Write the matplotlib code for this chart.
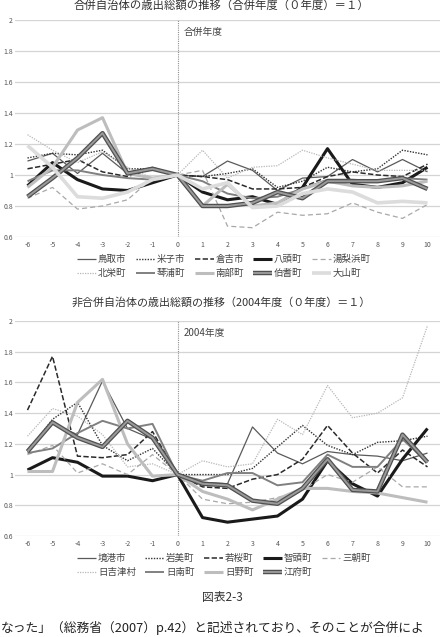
import matplotlib
matplotlib.use("Agg")
import matplotlib.pyplot as plt
import matplotlib.patheffects as pe

plt.rcParams['font.family'] = ['Noto Sans CJK JP', 'DejaVu Sans']

years = list(range(-6, 11))
xtick_labels = [str(y) for y in years]
yticks = [0.6, 0.8, 1.0, 1.2, 1.4, 1.6, 1.8, 2.0]
ytick_labels = ['0.6', '0.8', '1', '1.2', '1.4', '1.6', '1.8', '2']

# --- merged municipalities (top chart)
top_title = '合併自治体の歳出総額の推移（合併年度（０年度）＝１）'
top_note = '合併年度'
top_names = ['鳥取市', '米子市', '倉吉市', '八頭町', '湯梨浜町',
             '北栄町', '琴浦町', '南部町', '伯耆町', '大山町']
tottori   = [1.09, 1.14, 1.01, 1.14, 1.01, 1.05, 1.00, 0.99, 1.09, 1.03, 0.90, 0.98, 0.99, 1.10, 1.02, 1.10, 1.02]
yonago    = [1.11, 1.14, 1.13, 1.16, 1.04, 1.04, 1.00, 0.99, 1.01, 1.04, 0.92, 0.96, 1.05, 1.02, 1.04, 1.16, 1.13]
kurayoshi = [1.04, 1.07, 1.10, 1.02, 0.99, 1.04, 1.00, 0.99, 0.97, 0.91, 0.91, 0.92, 0.99, 1.02, 1.00, 0.99, 1.07]
yazu      = [0.93, 1.08, 0.97, 0.91, 0.90, 0.95, 1.00, 0.89, 0.84, 0.86, 0.81, 0.92, 1.17, 0.94, 0.92, 0.95, 1.05]
yurihama  = [0.85, 0.92, 0.78, 0.80, 0.84, 0.98, 1.00, 1.03, 0.67, 0.66, 0.76, 0.74, 0.75, 0.82, 0.76, 0.72, 0.81]
hokuei    = [1.26, 1.16, 1.08, 1.15, 1.05, 0.98, 1.00, 1.16, 0.98, 1.05, 1.06, 1.16, 1.11, 1.07, 1.03, 1.03, 1.03]
kotoura   = [0.96, 1.03, 1.03, 1.00, 0.98, 0.97, 1.00, 0.96, 0.88, 0.85, 0.86, 0.91, 0.97, 0.97, 0.96, 0.98, 0.97]
nanbu     = [0.92, 1.05, 1.29, 1.37, 1.01, 0.98, 1.00, 0.80, 0.94, 0.80, 0.82, 0.91, 0.96, 0.93, 0.92, 0.93, 0.96]
hoki      = [0.86, 0.98, 1.11, 1.27, 1.01, 1.04, 1.00, 0.80, 0.80, 0.82, 0.89, 0.85, 0.96, 0.96, 0.96, 0.98, 0.91]
daisen    = [1.19, 1.05, 0.86, 0.85, 0.89, 0.97, 1.00, 0.91, 0.95, 0.79, 0.80, 0.88, 0.91, 0.89, 0.82, 0.83, 0.82]
top_series = [tottori, yonago, kurayoshi, yazu, yurihama, hokuei, kotoura, nanbu, hoki, daisen]

# --- non-merged municipalities (bottom chart)
bot_title = '非合併自治体の歳出総額の推移（2004年度（０年度）＝１）'
bot_note = '2004年度'
bot_names = ['境港市', '岩美町', '若桜町', '智頭町', '三朝町',
             '日吉津村', '日南町', '日野町', '江府町']
sakaiminato = [1.16, 1.33, 1.26, 1.61, 1.30, 1.23, 1.00, 0.95, 0.94, 1.31, 1.14, 1.07, 1.15, 1.13, 1.12, 1.09, 1.14]
iwami       = [1.15, 1.36, 1.47, 1.19, 1.09, 1.17, 1.00, 1.00, 1.00, 1.04, 1.18, 1.32, 1.19, 1.13, 1.21, 1.22, 1.25]
wakasa      = [1.42, 1.77, 1.12, 1.11, 1.13, 1.28, 1.00, 0.92, 0.91, 0.97, 1.00, 1.10, 1.32, 1.14, 1.01, 1.16, 1.05]
chizu       = [1.03, 1.11, 1.08, 0.99, 0.99, 0.96, 1.00, 0.72, 0.69, 0.71, 0.73, 0.84, 1.09, 0.94, 0.86, 1.10, 1.30]
misasa      = [1.13, 1.19, 1.01, 1.07, 1.00, 1.13, 1.00, 0.84, 0.81, 0.82, 0.85, 0.90, 1.00, 0.95, 1.05, 0.92, 0.92]
hiezu       = [1.25, 1.43, 1.38, 1.26, 1.05, 1.07, 1.00, 1.09, 1.05, 1.07, 1.36, 1.26, 1.58, 1.37, 1.40, 1.50, 1.97]
nichinan    = [1.14, 1.17, 1.27, 1.35, 1.30, 1.33, 1.00, 0.96, 1.01, 1.01, 0.93, 0.95, 1.13, 1.05, 1.05, 1.23, 1.08]
hino        = [1.02, 1.02, 1.47, 1.62, 1.20, 0.99, 1.00, 0.89, 0.84, 0.77, 0.84, 0.91, 0.91, 0.89, 0.88, 0.85, 0.82]
kofu        = [1.15, 1.34, 1.24, 1.18, 1.35, 1.24, 1.00, 0.94, 0.93, 0.83, 0.81, 0.91, 1.10, 0.90, 0.89, 1.26, 1.08]
bot_series = [sakaiminato, iwami, wakasa, chizu, misasa, hiezu, nichinan, hino, kofu]

caption = '図表2-3'
body_text = 'なった」（総務省（2007）p.42）と記述されており、そのことが合併によ'

# styles by position in legend (shared by both charts)
styles = [
    dict(color='#5a5a5a', lw=0.9, ls='-'),
    dict(color='#333333', lw=1.0, ls=(0, (1, 1))),
    dict(color='#2a2a2a', lw=1.1, ls=(0, (3.5, 1.5))),
    dict(color='#1a1a1a', lw=2.2, ls='-'),
    dict(color='#a8a8a8', lw=0.9, ls=(0, (4, 2.5))),
    dict(color='#b8b8b8', lw=0.9, ls=(0, (1, 1))),
    dict(color='#808080', lw=1.4, ls='-'),
    dict(color='#bdbdbd', lw=2.2, ls='-'),
    dict(color='#9a9a9a', lw=1.4, ls='-', outline=True),
    dict(color='#dcdcdc', lw=2.6, ls='-'),
]

W, H = 442, 637
fig = plt.figure(figsize=(W / 100, H / 100), dpi=100)
fig.patch.set_facecolor('white')


def fx(px):
    return px / W


def fy(py):
    return 1 - py / H


def draw(ax_rect, names, series, note, title, title_y, title_size, leg_y):
    ax = fig.add_axes(ax_rect)
    handles = []
    for name, vals, st in zip(names, series, styles):
        st = dict(st)
        outline = st.pop('outline', False)
        (ln,) = ax.plot(years, vals, color=st['color'], lw=st['lw'], ls=st['ls'],
                        label=name, solid_capstyle='butt', zorder=3)
        if outline:
            ln.set_path_effects([pe.Stroke(linewidth=3.2, foreground='#505050'), pe.Normal()])
        handles.append(ln)
    ax.set_xlim(-6.5, 10.5)
    ax.set_ylim(0.6, 2.0)
    ax.set_xticks(years)
    ax.set_xticklabels(xtick_labels)
    ax.set_yticks(yticks)
    ax.set_yticklabels(ytick_labels)
    ax.tick_params(axis='both', length=0, labelsize=5, colors='#555555')
    ax.tick_params(axis='x', pad=3)
    ax.tick_params(axis='y', pad=1.5)
    for s in ax.spines.values():
        s.set_visible(False)
    ax.grid(axis='y', color='#d4d4d4', lw=0.9)
    ax.set_axisbelow(True)
    ax.axvline(0, color='#909090', lw=0.8, ls=(0, (1, 1)), zorder=2)
    ax.text(0.25, 1.92, note, fontsize=7, color='#444444', ha='left', va='center')
    fig.text(fx(221), fy(title_y), title, fontsize=title_size, color='#333333',
             ha='center', va='center')
    n = len(handles)
    ncol = 5
    nrows = 2
    order = []
    for c in range(ncol):
        for r in range(nrows):
            i = r * ncol + c
            if i < n:
                order.append(i)
    fig.legend([handles[i] for i in order], [names[i] for i in order],
               ncol=ncol, loc='center', bbox_to_anchor=(fx(224), fy(leg_y)),
               frameon=False, fontsize=6.8, handlelength=2.0,
               handletextpad=0.2, columnspacing=1.0, labelspacing=0.55,
               borderpad=0, labelcolor='#444444')
    return ax


draw([fx(15), fy(237), fx(425), 217 / H], top_names, top_series, top_note,
     top_title, 5, 8.2, 266.5)
draw([fx(15), fy(536), fx(425), 215 / H], bot_names, bot_series, bot_note,
     bot_title, 302, 7.9, 565.5)

fig.text(fx(222), fy(597), caption, fontsize=8.5, color='#333333', ha='center', va='center')
fig.text(fx(1), fy(628), body_text, fontsize=9.2, color='#222222', ha='left', va='center')

fig.savefig('out.png', dpi=100, facecolor='white')
